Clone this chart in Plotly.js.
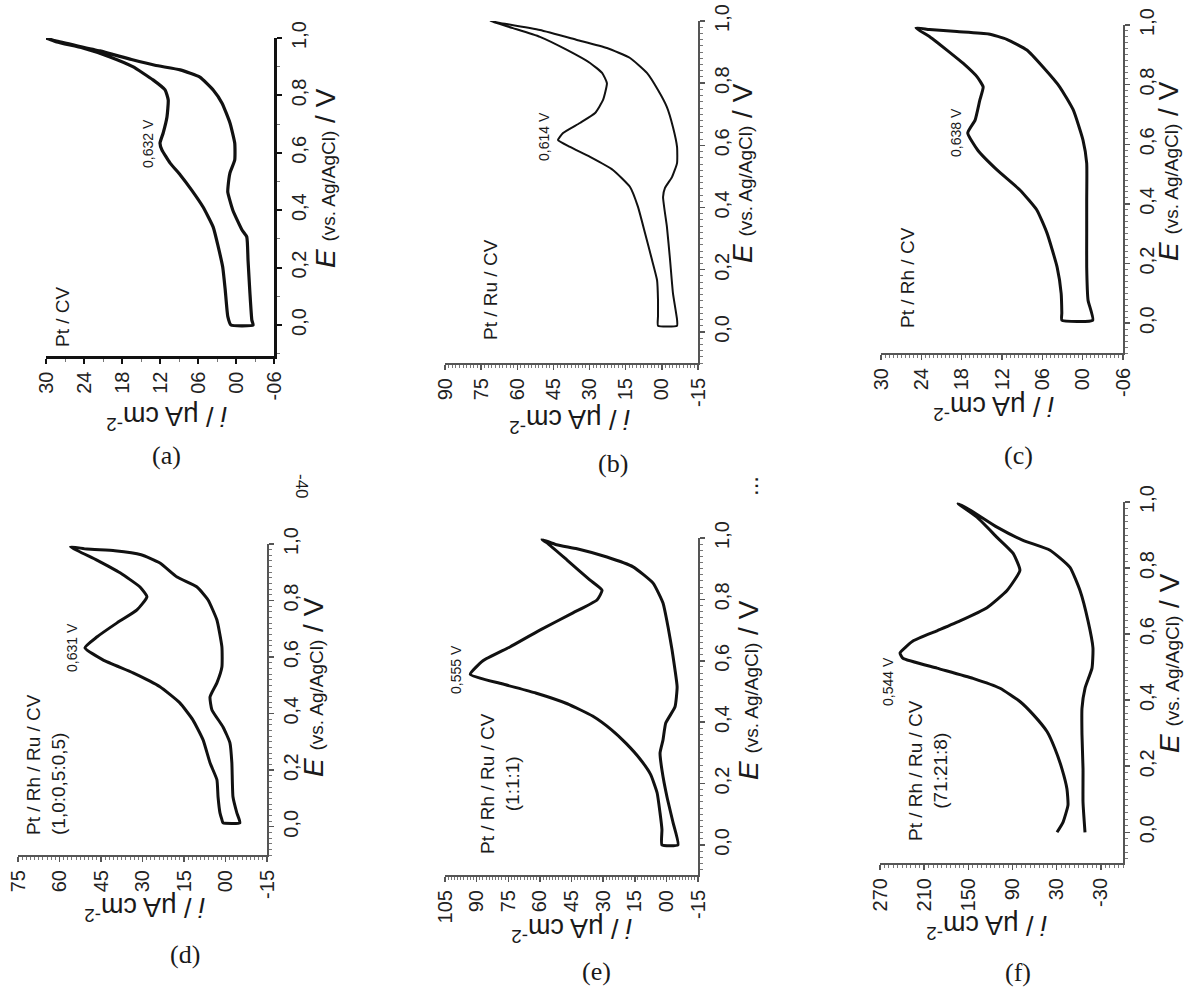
<!DOCTYPE html>
<html><head><meta charset="utf-8">
<script src="https://cdn.plot.ly/plotly-3.0.1.min.js"></script>
<style>html,body{margin:0;padding:0;background:#fff}#chart{width:1187px;height:993px}</style>
</head><body><div id="chart"></div>
<script>
// ---------------- DATA ----------------
// E (V vs Ag/AgCl) and current density i (uA cm-2); "up" = anodic sweep, "dn" = cathodic sweep
const E_a_up = [0.0, 0.03, 0.122, 0.202, 0.272, 0.341, 0.411, 0.47, 0.523, 0.564, 0.61, 0.634, 0.669, 0.725, 0.784, 0.819, 0.854, 0.9, 0.934, 0.965, 0.986, 1.0];
const I_a_up = [0.8, 1.3, 1.7, 2.1, 2.8, 3.6, 5.2, 7.0, 8.8, 10.4, 11.7, 12.0, 11.5, 10.9, 10.7, 11.2, 13.1, 16.3, 19.9, 24.2, 28.3, 30.0];
const E_a_dn = [0.99, 0.955, 0.925, 0.905, 0.889, 0.864, 0.819, 0.773, 0.704, 0.634, 0.575, 0.53, 0.481, 0.463, 0.40, 0.331, 0.307, 0.226, 0.111, 0.017, 0.0];
const I_a_dn = [28.5, 21.5, 16.5, 12.8, 8.8, 5.7, 3.6, 2.2, 0.95, 0.2, 0.2, 0.95, 1.26, 1.3, 0.5, -0.95, -1.7, -1.9, -2.2, -2.5, -2.7];

const E_b_up = [0.02, 0.05, 0.103, 0.167, 0.232, 0.318, 0.402, 0.466, 0.521, 0.563, 0.595, 0.617, 0.64, 0.672, 0.704, 0.746, 0.80, 0.833, 0.865, 0.907, 0.949, 0.977, 1.0];
const I_b_up = [1.6, 1.6, 1.6, 2.0, 4.1, 7.0, 9.9, 13.2, 20.3, 29.8, 38.1, 43.1, 41.0, 34.0, 27.7, 24.4, 22.8, 24.8, 29.8, 39.4, 50.6, 61.8, 71.3];
const E_b_dn = [0.994, 0.971, 0.939, 0.913, 0.881, 0.833, 0.778, 0.723, 0.659, 0.595, 0.543, 0.498, 0.463, 0.434, 0.338, 0.232, 0.125, 0.04, 0.02];
const I_b_dn = [67.2, 50.6, 35.2, 22.8, 13.2, 6.2, 1.6, -2.1, -4.6, -6.3, -6.3, -4.2, -1.3, -0.5, -2.1, -3.4, -4.6, -6.3, -6.3];

const E_c_up = [0.01, 0.034, 0.1, 0.188, 0.302, 0.379, 0.446, 0.513, 0.58, 0.638, 0.681, 0.748, 0.792, 0.826, 0.872, 0.916, 0.96, 0.99];
const I_c_up = [3.1, 3.1, 3.2, 3.8, 5.3, 6.8, 9.3, 12.7, 15.6, 17.1, 16.0, 15.3, 14.8, 15.7, 17.8, 20.2, 22.7, 24.8];
const E_c_dn = [0.985, 0.978, 0.97, 0.952, 0.916, 0.859, 0.792, 0.715, 0.614, 0.537, 0.413, 0.302, 0.188, 0.077, 0.01];
const I_c_dn = [22.8, 18.7, 14.0, 11.3, 8.3, 5.9, 3.4, 1.4, -0.05, -0.6, -0.6, -0.6, -0.6, -0.8, -1.5];

const E_d_up = [0.014, 0.025, 0.049, 0.106, 0.166, 0.226, 0.307, 0.378, 0.438, 0.495, 0.544, 0.59, 0.633, 0.671, 0.721, 0.767, 0.813, 0.848, 0.898, 0.943, 0.99];
const I_d_up = [0.9, 1.3, 2.0, 2.7, 3.1, 5.6, 8.1, 11.8, 16.5, 23.7, 33.4, 44.3, 50.8, 46.5, 39.2, 32.0, 28.4, 30.9, 38.1, 46.5, 56.0];
const E_d_dn = [0.982, 0.976, 0.962, 0.933, 0.883, 0.848, 0.802, 0.731, 0.636, 0.565, 0.509, 0.459, 0.413, 0.353, 0.297, 0.226, 0.106, 0.049, 0.014];
const I_d_dn = [50.1, 40.0, 30.5, 23.7, 17.5, 10.3, 6.3, 3.1, 1.3, 1.3, 3.1, 5.6, 4.9, 0.9, -1.6, -2.3, -2.7, -4.1, -5.2];

const E_e_up = [0.0, 0.05, 0.104, 0.17, 0.23, 0.28, 0.33, 0.375, 0.42, 0.46, 0.495, 0.525, 0.556, 0.60, 0.645, 0.70, 0.756, 0.798, 0.83, 0.863, 0.928, 0.984, 0.995];
const I_e_up = [2.1, 2.1, 3.0, 4.4, 7.5, 12.5, 19.0, 26.0, 35.0, 47.0, 62.0, 78.0, 93.0, 87.0, 74.2, 60.0, 44.3, 32.9, 30.5, 36.2, 47.1, 56.6, 59.0];
const E_e_dn = [0.978, 0.965, 0.938, 0.906, 0.853, 0.788, 0.71, 0.635, 0.57, 0.515, 0.45, 0.397, 0.342, 0.30, 0.244, 0.156, 0.072, 0.0];
const I_e_dn = [52.1, 42.4, 28.2, 15.8, 6.3, 1.6, -0.8, -2.7, -4.1, -5.1, -4.1, 0.3, 1.6, 3.0, 2.1, -0.3, -3.2, -5.5];

const E_f_up = [0.0, 0.03, 0.082, 0.131, 0.192, 0.253, 0.305, 0.357, 0.396, 0.436, 0.466, 0.497, 0.527, 0.543, 0.579, 0.61, 0.64, 0.68, 0.732, 0.793, 0.845, 0.893, 0.954, 0.995];
const I_f_up = [29.6, 21.5, 14.7, 16.1, 22.9, 32.4, 43.2, 62.2, 80.0, 107.0, 143.7, 192.6, 238.8, 242.8, 225.2, 192.6, 161.4, 124.7, 97.5, 80.0, 89.4, 111.1, 138.3, 164.0];
const E_f_dn = [0.976, 0.924, 0.884, 0.854, 0.802, 0.732, 0.64, 0.558, 0.497, 0.436, 0.375, 0.296, 0.192, 0.091, 0.0];
const I_f_dn = [147.8, 111.1, 75.8, 39.1, 12.0, -1.6, -12.5, -19.2, -17.9, -8.4, -4.3, -4.3, -5.7, -5.7, -8.4];

// tick labels
const E_ticks = [0.0, 0.2, 0.4, 0.6, 0.8, 1.0];
const E_tickText = ['0,0', '0,2', '0,4', '0,6', '0,8', '1,0'];
const I_ticks_a = [30, 24, 18, 12, 6, 0, -6];
const I_tickText_a = ['30', '24', '18', '12', '06', '00', '-06'];
const I_ticks_b = [90, 75, 60, 45, 30, 15, 0, -15];
const I_tickText_b = ['90', '75', '60', '45', '30', '15', '00', '-15'];
const I_ticks_c = [30, 24, 18, 12, 6, 0, -6];
const I_tickText_c = ['30', '24', '18', '12', '06', '00', '-06'];
const I_ticks_d = [75, 60, 45, 30, 15, 0, -15];
const I_tickText_d = ['75', '60', '45', '30', '15', '00', '-15'];
const I_ticks_e = [105, 90, 75, 60, 45, 30, 15, 0, -15];
const I_tickText_e = ['105', '90', '75', '60', '45', '30', '15', '00', '-15'];
const I_ticks_f = [270, 210, 150, 90, 30, -30];
const I_tickText_f = ['270', '210', '150', '90', '30', '-30'];

// text
const panelLetters = ['(a)', '(b)', '(c)', '(d)', '(e)', '(f)'];
const sampleNames = ['Pt / CV', 'Pt / Ru / CV', 'Pt / Rh / CV', 'Pt / Rh / Ru / CV<br>(1,0:0,5:0,5)', 'Pt / Rh / Ru / CV<br>(1:1:1)', 'Pt / Rh / Ru / CV<br>(71:21:8)'];
const peakLabels = ['0,632 V', '0,614 V', '0,638 V', '0,631 V', '0,555 V', '0,544 V'];

// ---------------- LAYOUT CONFIG ----------------
const W = 1187, H = 993;
const SANS = 'Liberation Sans, Arial, sans-serif';
const SERIF = 'Liberation Serif, Times New Roman, serif';

const panels = [
  {Eu:E_a_up, Iu:I_a_up, Ed:E_a_dn, Id:I_a_dn, closed:true, box:{l:46,r:274,t:38,b:356}, xr:[30,-6], yr:[-0.108,1.0], tv:I_ticks_a, tt:I_tickText_a, xminor:3, yminor:0.1, bold:true, lw:3.2,
   eT:[325,178], iT:[167,418], lt:[166,456], sm:[63,316], smAlign:'left', pk:[148,144]},
  {Eu:E_b_up, Iu:I_b_up, Ed:E_b_dn, Id:I_b_dn, closed:true, box:{l:445,r:698,t:21,b:363}, xr:[90,-15], yr:[-0.1,1.0], tv:I_ticks_b, tt:I_tickText_b, xminor:1.5, yminor:0.02, bold:false, lw:2,
   eT:[742,173], iT:[570,421], lt:[613,464], sm:[490,290], smAlign:'left', pk:[544,137]},
  {Eu:E_c_up, Iu:I_c_up, Ed:E_c_dn, Id:I_c_dn, closed:true, box:{l:881,r:1123,t:25,b:353}, xr:[30,-6], yr:[-0.1,1.0], tv:I_ticks_c, tt:I_tickText_c, xminor:0.6, yminor:0.02, bold:false, lw:3,
   eT:[1168,171], iT:[993,408], lt:[1018,456], sm:[908,278], smAlign:'left', pk:[956,133]},
  {Eu:E_d_up, Iu:I_d_up, Ed:E_d_dn, Id:I_d_dn, closed:true, box:{l:18,r:267,t:544,b:855}, xr:[75,-15], yr:[-0.1,1.0], tv:I_ticks_d, tt:I_tickText_d, xminor:1.5, yminor:0.02, bold:false, lw:3,
   eT:[313,687], iT:[145,909], lt:[185,954], sm:[46,765], smAlign:'left', pk:[72,648]},
  {Eu:E_e_up, Iu:I_e_up, Ed:E_e_dn, Id:I_e_dn, closed:true, box:{l:445,r:698,t:538,b:875}, xr:[105,-15], yr:[-0.098,1.0], tv:I_ticks_e, tt:I_tickText_e, xminor:1.5, yminor:0.02, bold:false, lw:3,
   eT:[748,690], iT:[572,930], lt:[597,971], sm:[500,783], smAlign:'center', pk:[456,670]},
  {Eu:E_f_up, Iu:I_f_up, Ed:E_f_dn, Id:I_f_dn, closed:false, box:{l:880,r:1123,t:502,b:863}, xr:[270,-60], yr:[-0.093,1.0], tv:I_ticks_f, tt:I_tickText_f, xminor:6, yminor:0.02, bold:false, lw:3,
   eT:[1169,663], iT:[987,927], lt:[1018,972], sm:[928,771], smAlign:'center', pk:[888,682]}
];

const traces = [];
const layout = {
  width: W, height: H,
  margin: {l:0, r:0, t:0, b:0, pad:0},
  paper_bgcolor: '#fff', plot_bgcolor: 'rgba(0,0,0,0)',
  showlegend: false,
  font: {family: SANS, color: '#222'},
  annotations: []
};

function ann(text, p, size, angle, extra) {
  return Object.assign({
    text: text, x: p[0] / W, y: 1 - p[1] / H, xref: 'paper', yref: 'paper',
    xanchor: 'center', yanchor: 'middle', showarrow: false, textangle: angle,
    font: {family: SANS, size: size, color: '#1a1a1a'}
  }, extra || {});
}

panels.forEach((p, k) => {
  const s = k === 0 ? '' : String(k + 1);
  const xs = p.Iu.concat(p.Id);
  const ys = p.Eu.concat(p.Ed);
  if (p.closed) { xs.push(p.Iu[0]); ys.push(p.Eu[0]); }
  traces.push({
    type: 'scatter', mode: 'lines', x: xs, y: ys,
    xaxis: 'x' + s, yaxis: 'y' + s,
    line: {color: '#111', width: p.lw, shape: 'spline', smoothing: 0.45},
    hoverinfo: 'skip'
  });
  const axCol = p.bold ? '#111' : '#555';
  const common = {
    showgrid: false, zeroline: false, showline: true, linecolor: axCol,
    linewidth: p.bold ? 2.5 : 2, ticks: 'outside', ticklen: 5, tickwidth: p.bold ? 2 : 1.5,
    tickcolor: axCol, fixedrange: true, tickangle: -90,
    tickfont: {family: SANS, size: 20, color: '#222'}
  };
  layout['xaxis' + s] = Object.assign({}, common, {
    domain: [p.box.l / W, p.box.r / W], anchor: 'y' + s, side: 'bottom',
    range: p.xr, tickmode: 'array', tickvals: p.tv, ticktext: p.tt,
    minor: {ticks: 'outside', ticklen: 3, tickwidth: 1, tickcolor: '#777', dtick: p.xminor, tick0: 0},
    tickfont: {family: SANS, size: 20, color: '#222'}
  });
  layout['yaxis' + s] = Object.assign({}, common, {
    domain: [1 - p.box.b / H, 1 - p.box.t / H], anchor: 'x' + s, side: 'right',
    range: p.yr, tickmode: 'array', tickvals: E_ticks, ticktext: E_tickText,
    minor: {ticks: 'outside', ticklen: 3, tickwidth: 1, tickcolor: '#777', dtick: p.yminor, tick0: 0}
  });
  layout.annotations.push(
    ann('<i>E</i> <span style="font-size:19px">(vs. Ag/AgCl)</span> / V', p.eT, 28, -90),
    ann('<i>i</i> / μA cm<sup>-2</sup>', p.iT, 27, 180),
    ann(panelLetters[k], p.lt, 25, 0, {font: {family: SERIF, size: 26, color: '#1a1a1a'}}),
    ann(sampleNames[k], p.sm, 19, -90, {align: p.smAlign}),
    ann(peakLabels[k], p.pk, 14, -90)
  );
});
layout.annotations.push(
  ann('-40', [301, 487], 17, 90),
  ann('...', [750, 486], 24, -90)
);

Plotly.newPlot('chart', traces, layout, {staticPlot: true, displayModeBar: false});
</script></body></html>
